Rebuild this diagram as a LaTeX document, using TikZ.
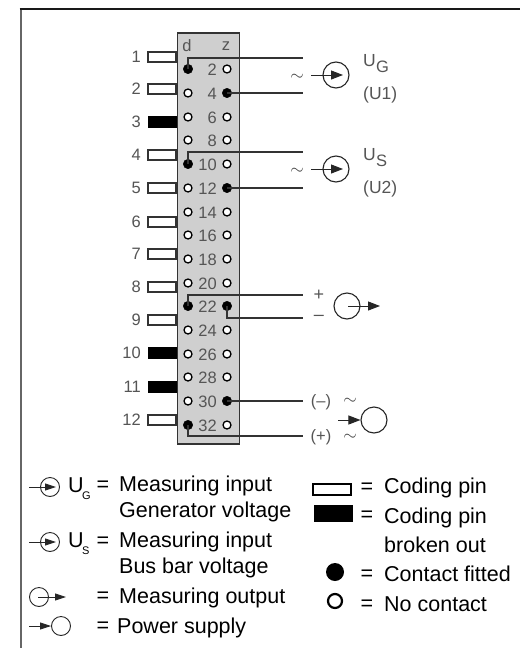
\documentclass[tikz,border=0pt]{standalone}
\usepackage{fontspec}
\setmainfont{Liberation Sans}
\usetikzlibrary{arrows.meta}
\definecolor{wiregray}{HTML}{333333}
\definecolor{txtgray}{HTML}{555555}
\tikzset{
  x=1pt,y=-1pt,
  wire/.style={draw=wiregray,line width=1.2pt},
  sym/.style={circle,draw=black!85,line width=1.1pt,minimum size=26pt,inner sep=0pt,fill=none},
  symsmall/.style={circle,draw=black!85,line width=0.9pt,minimum size=19pt,inner sep=0pt,fill=none},
  tiparrow/.style={-{Triangle[length=12pt,width=9pt]},draw=black!85,line width=1pt},
  tipsmall/.style={-{Triangle[length=11pt,width=7pt]},draw=black!85,line width=0.9pt},
  fitted/.style={circle,fill=black,draw=black,inner sep=0pt,minimum size=9.5pt},
  empty/.style={circle,fill=white,draw=black,line width=1.3pt,inner sep=0pt,minimum size=8pt},
  pinw/.style={draw=wiregray,fill=white,line width=1.3pt},
  pinb/.style={draw=black,fill=black},
  num/.style={anchor=base east,font=\fontsize{16.5}{17}\selectfont,text=txtgray,inner sep=0pt},
  lbl/.style={font=\fontsize{16.5}{17}\selectfont,text=txtgray,inner sep=0pt},
  symtxt/.style={font=\fontsize{18}{19}\selectfont,text=txtgray,inner sep=0pt},
  tilde/.style={font=\fontsize{19}{20}\selectfont,text=black!75,inner sep=0pt},
  sigtxt/.style={anchor=base west,font=\fontsize{17.5}{18}\selectfont,text=txtgray,inner sep=0pt},
  sigsub/.style={anchor=base west,font=\fontsize{16.5}{17}\selectfont,text=txtgray,inner sep=0pt},
  leg/.style={anchor=base west,font=\fontsize{21.5}{22}\selectfont,text=black,inner sep=0pt},
  eq/.style={font=\fontsize{21.5}{22}\selectfont,text=black,inner sep=0pt},
  subs/.style={anchor=base west,font=\fontsize{11}{12}\selectfont,text=black,inner sep=0pt},
}
\begin{document}
\begin{tikzpicture}
\useasboundingbox (0,0) rectangle (520,648);
\fill[white] (0,0) rectangle (520,648);
% frame
\draw[line width=2pt,draw=black!60] (20.5,648) -- (20.5,9);
\draw[line width=1.5pt,draw=black!90] (19.5,9) -- (520,9);
% chassis
\node[draw=wiregray,fill=black!19,line width=1.8pt,minimum width=62pt,minimum height=411pt,inner sep=0pt,anchor=north west] (body) at (176.5,32) {};
\node[lbl] (dlab) at (187,46) {d};
\node[lbl] (zlab) at (226,46) {z};
% coding pins
\foreach \n/\y in {1/57,2/89,4/155,5/188,6/222,7/254,8/287,9/320,12/420}{
  \draw[pinw] (148,\y-5) rectangle (176,\y+5);
  \node[anchor=east,lbl] at (141,\y) {\n};
}
\foreach \n/\y in {3/122,10/353,11/387}{
  \fill[pinb] (148,\y-5.5) rectangle (176,\y+5.5);
  \node[anchor=east,lbl] at (141,\y) {\n};
}
% contact rows
\foreach \n/\y/\dk/\zk in {2/69/fitted/empty,4/93/empty/fitted,6/117/empty/empty,8/140/empty/empty,10/164/fitted/empty,12/188/empty/fitted,14/212/empty/empty,16/235/empty/empty,18/259/empty/empty,20/283/empty/empty,22/306/fitted/fitted,24/330/empty/empty,26/354/empty/empty,28/377/empty/empty,30/401/empty/fitted,32/425/fitted/empty}{
  \node[\dk] (d\n) at (188,\y) {};
  \node[\zk] (z\n) at (227,\y) {};
  \node[num] at (217,\y+6) {\n};
}
% wire free ends
\coordinate (e2) at (303,58);
\coordinate (e4) at (303,93);
\coordinate (e10) at (303,152);
\coordinate (e12) at (303,188);
\coordinate (e22d) at (303,295);
\coordinate (e22z) at (303,318);
\coordinate (e30) at (303,401);
\coordinate (e32) at (303,436);
\draw[wire] (d2.center) |- (e2);
\draw[wire] (z4.center) -- (e4);
\draw[wire] (d10.center) |- (e10);
\draw[wire] (z12.center) -- (e12);
\draw[wire] (d22.center) |- (e22d);
\draw[wire] (z22.center) |- (e22z);
\draw[wire] (z30.center) -- (e30);
\draw[wire] (d32.center) |- (e32);
% U_G symbol
\node[sym] (ug) at (336,75) {};
\coordinate (ugs) at (311,75);
\coordinate (ugt) at (343,75);
\draw[tiparrow] (ugs) -- (ugt);
\node[tilde] (tg) at (297,77) {$\sim$};
\node[sigtxt] (ugl) at (363,66) {U};
\node[sigsub] at (376,72) {G};
\node[sigtxt] at (363,99) {(U1)};
% U_S symbol
\node[sym] (us) at (336,169) {};
\coordinate (uss) at (311,169);
\coordinate (ust) at (343,169);
\draw[tiparrow] (uss) -- (ust);
\node[tilde] (ts) at (297,171) {$\sim$};
\node[sigtxt] (usl) at (363,160) {U};
\node[sigsub] at (376,166) {S};
\node[sigtxt] at (363,193) {(U2)};
% output
\node[sym] (out) at (347,306) {};
\coordinate (outs) at (348,306);
\coordinate (outt) at (380,306);
\draw[tiparrow] (outs) -- (outt);
\node[symtxt] at (319,295) {+};
\node[symtxt] at (319,318) {–};
% supply
\node[sym] (sup) at (374,420) {};
\coordinate (sups) at (338,420);
\draw[tiparrow] (sups) -- (sup.west);
\node[lbl] at (321,402) {(–)};
\node[lbl] at (321,437) {(+)};
\node[tilde] at (350,401) {$\sim$};
\node[tilde] at (350,437) {$\sim$};
% legend left
\node[symsmall] (l1) at (50,487) {};
\coordinate (l1s) at (29,487); \coordinate (l1t) at (56,487);
\draw[tipsmall] (l1s) -- (l1t);
\node[leg] (lu1) at (68,492) {U};
\node[subs] at (82,499) {G};
\node[eq] at (103,486) {=};
\node[leg] at (119,491) {Measuring input};
\node[leg] at (119,517) {Generator voltage};
\node[symsmall] (l2) at (50,542) {};
\coordinate (l2s) at (29,542); \coordinate (l2t) at (56,542);
\draw[tipsmall] (l2s) -- (l2t);
\node[leg] (lu2) at (68,547) {U};
\node[subs] at (82,554) {S};
\node[eq] at (103,542) {=};
\node[leg] at (119,547) {Measuring input};
\node[leg] at (119,573) {Bus bar voltage};
\node[symsmall] (l3) at (39,597) {};
\coordinate (l3s) at (38,597); \coordinate (l3t) at (66,597);
\draw[tipsmall] (l3s) -- (l3t);
\node[eq] at (103,597) {=};
\node[leg] at (119,603) {Measuring output};
\node[symsmall] (l4) at (61,626) {};
\coordinate (l4s) at (29,626);
\draw[tipsmall] (l4s) -- (l4.west);
\node[eq] at (103,627) {=};
\node[leg] at (117,633) {Power supply};
% legend right
\draw[draw=black,fill=white,line width=1.5pt] (313,484) rectangle (351,495);
\node[eq] at (367,488) {=};
\node[leg] at (384,493) {Coding pin};
\fill[black] (314,505) rectangle (353,522);
\node[eq] at (367,516) {=};
\node[leg] at (384,523) {Coding pin};
\node[leg] at (384,552) {broken out};
\node[circle,fill=black,inner sep=0pt,minimum size=18pt] (lf) at (335,572) {};
\node[eq] at (367,575) {=};
\node[leg] at (384,581) {Contact fitted};
\node[circle,draw=black,line width=2.2pt,inner sep=0pt,minimum size=14pt] (le) at (335,601) {};
\node[eq] at (367,605) {=};
\node[leg] at (384,611) {No contact};
\end{tikzpicture}
\end{document}
